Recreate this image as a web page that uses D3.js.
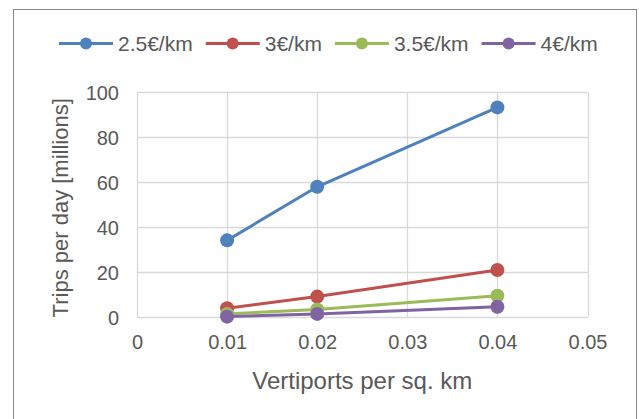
<!DOCTYPE html>
<html>
<head>
<meta charset="utf-8">
<script src="https://cdn.jsdelivr.net/npm/d3@7"></script>
<style>
  html, body { margin: 0; padding: 0; background: #fff; }
  svg { display: block; font-family: "Liberation Sans", Arial, sans-serif; }
</style>
</head>
<body>
<svg id="chart" width="639" height="419"></svg>
<script>
// ---- data ----
const xValues = [0.01, 0.02, 0.04];
const seriesNames = ["2.5€/km", "3€/km", "3.5€/km", "4€/km"];
const series1 = [34.2, 58.0, 93.3];
const series2 = [4.0, 9.2, 21.0];
const series3 = [1.5, 3.5, 9.6];
const series4 = [0.3, 1.5, 4.7];
const xTicks = [0, 0.01, 0.02, 0.03, 0.04, 0.05];
const yTicks = [0, 20, 40, 60, 80, 100];
const xTitle = "Vertiports per sq. km";
const yTitle = "Trips per day [millions]";
const colors = ["#4f81bd", "#c0504d", "#9bbb59", "#8064a2"];

const allSeries = [series1, series2, series3, series4].map((vals, i) => ({
  name: seriesNames[i], color: colors[i],
  points: vals.map((v, j) => ({ x: xValues[j], y: v }))
}));

// ---- layout ----
const svg = d3.select("#chart");
const plot = { left: 137, right: 587.5, top: 92.3, bottom: 317.3 };
const textColor = "#595959";
const gridColor = "#d9d9d9";

// outer chart border
svg.append("rect")
  .attr("x", 13.5).attr("y", 9.5).attr("width", 623).attr("height", 420)
  .attr("fill", "#fff").attr("stroke", "#898989").attr("stroke-width", 1);

const x = d3.scaleLinear().domain([0, 0.05]).range([plot.left, plot.right]);
const y = d3.scaleLinear().domain([0, 100]).range([plot.bottom, plot.top]);

// gridlines
const g = svg.append("g");
g.selectAll(".vgrid").data(xTicks).enter().append("line")
  .attr("x1", d => Math.round(x(d)) + 0.5).attr("x2", d => Math.round(x(d)) + 0.5)
  .attr("y1", y(100)).attr("y2", y(0))
  .attr("stroke", gridColor).attr("stroke-width", 1.3);
g.selectAll(".hgrid").data(yTicks).enter().append("line")
  .attr("y1", d => Math.round(y(d)) + 0.5).attr("y2", d => Math.round(y(d)) + 0.5)
  .attr("x1", x(0)).attr("x2", x(0.05))
  .attr("stroke", gridColor).attr("stroke-width", 1.3);

// axes (tick labels only, via d3 axes)
const xAxis = d3.axisBottom(x).tickValues(xTicks).tickFormat(d => d === 0 ? "0" : d3.format(".2f")(d)).tickSize(0).tickPadding(0);
const xg = svg.append("g").attr("transform", `translate(0,${plot.bottom})`).call(xAxis);
xg.select(".domain").remove();
xg.selectAll("text").attr("fill", textColor).attr("font-size", 20)
  .attr("font-family", "Liberation Sans, Arial, sans-serif")
  .attr("dy", null).attr("y", 32);

const yAxis = d3.axisLeft(y).tickValues(yTicks).tickSize(0).tickPadding(0);
const yg = svg.append("g").attr("transform", `translate(${plot.left},0)`).call(yAxis);
yg.select(".domain").remove();
yg.selectAll("text").attr("fill", textColor).attr("font-size", 20)
  .attr("font-family", "Liberation Sans, Arial, sans-serif")
  .attr("x", -18).attr("dy", "0.35em");

// axis titles
svg.append("text").attr("x", (plot.left + plot.right) / 2).attr("y", 389)
  .attr("text-anchor", "middle").attr("fill", textColor).attr("font-size", 24)
  .text(xTitle);
svg.append("text").attr("transform", `translate(68,${(plot.top + plot.bottom) / 2 + 3}) rotate(-90)`)
  .attr("text-anchor", "middle").attr("fill", textColor).attr("font-size", 22)
  .text(yTitle);

// series
const line = d3.line().x(d => x(d.x)).y(d => y(d.y));
allSeries.forEach(s => {
  const sg = svg.append("g");
  sg.append("path").datum(s.points).attr("d", line)
    .attr("fill", "none").attr("stroke", s.color).attr("stroke-width", 3)
    .attr("stroke-linejoin", "round").attr("stroke-linecap", "round");
  sg.selectAll("circle").data(s.points).enter().append("circle")
    .attr("cx", d => x(d.x)).attr("cy", d => y(d.y)).attr("r", 7)
    .attr("fill", s.color);
});

// legend
const legend = svg.append("g");
let lx = 59;
const ly = 43.5;
allSeries.forEach(s => {
  const item = legend.append("g");
  item.append("line").attr("x1", lx).attr("x2", lx + 54).attr("y1", ly).attr("y2", ly)
    .attr("stroke", s.color).attr("stroke-width", 3);
  item.append("circle").attr("cx", lx + 27).attr("cy", ly).attr("r", 6).attr("fill", s.color);
  const t = item.append("text").attr("x", lx + 59).attr("y", 51)
    .attr("fill", textColor).attr("font-size", 21).text(s.name);
  lx += 59 + t.node().getComputedTextLength() + 13;
});
</script>
</body>
</html>
